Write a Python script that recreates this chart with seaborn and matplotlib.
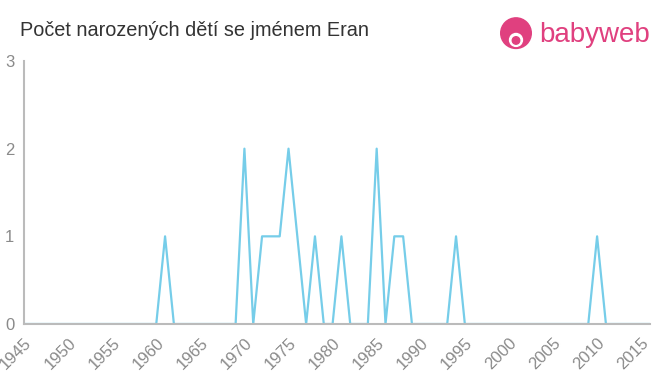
import matplotlib
matplotlib.use("Agg")
import matplotlib.pyplot as plt
import seaborn as sns
import pandas as pd
import numpy as np

years = list(range(1945, 2017))
nonzero = {1961: 1, 1970: 2, 1972: 1, 1973: 1, 1974: 1, 1975: 2, 1976: 1,
           1978: 1, 1981: 1, 1985: 2, 1987: 1, 1988: 1, 1994: 1, 2010: 1}
counts = [nonzero.get(y, 0) for y in years]
x_ticks = list(range(1945, 2020, 5))
y_ticks = [0, 1, 2, 3]
title = "Počet narozených dětí se jménem Eran"

sns.set_style("white")
plt.rcParams['font.family'] = ['Liberation Sans', 'DejaVu Sans']

df = pd.DataFrame({"year": years, "count": counts})

fig = plt.figure(figsize=(6.6, 3.75), dpi=100)
ax = fig.add_axes([24/660, 1-324/375, (650-24)/660, (324-61)/375])
sns.lineplot(data=df, x="year", y="count", ax=ax, color="#76cde9", linewidth=1.6)

ax.set_xlim(1945, 2016)
ax.set_ylim(0, 3)
ax.set_xticks(x_ticks)
ax.set_xticklabels([str(t) for t in x_ticks], rotation=45, ha="right",
                   rotation_mode="anchor", fontsize=12, color="#8a8a8a")
ax.set_yticks(y_ticks)
ax.set_yticklabels([str(t) for t in y_ticks], fontsize=12, color="#8a8a8a")
ax.set_xlabel("")
ax.set_ylabel("")
for s in ["top", "right"]:
    ax.spines[s].set_visible(False)
for s in ["left", "bottom"]:
    ax.spines[s].set_color("#bbbbbb")
    ax.spines[s].set_linewidth(1.5)
ax.tick_params(axis="both", which="both", length=5, width=1.2, color="#bbbbbb",
               direction="out", pad=2)
ax.tick_params(axis="x", pad=3)

fig.text(20/660, 1-30/375, title, fontsize=14.3, color="#333333", va="center", ha="left")

# logo
fig.text(539/660, 1-35/375, "babyweb", fontsize=20, color="#e0407f", va="center",
         ha="left")
logo_ax = fig.add_axes([499/660, 1-51/375, 34/660, 34/375])
logo_ax.set_xlim(-1, 1); logo_ax.set_ylim(-1, 1); logo_ax.axis("off")
logo_ax.add_patch(plt.Circle((0, 0.05), 0.9, color="#e0407f"))
logo_ax.add_patch(plt.Circle((0, -0.35), 0.38, color="white"))
logo_ax.add_patch(plt.Circle((0, -0.38), 0.22, color="#e0407f"))
logo_ax.set_aspect("equal")

fig.savefig("out.png", dpi=100)
